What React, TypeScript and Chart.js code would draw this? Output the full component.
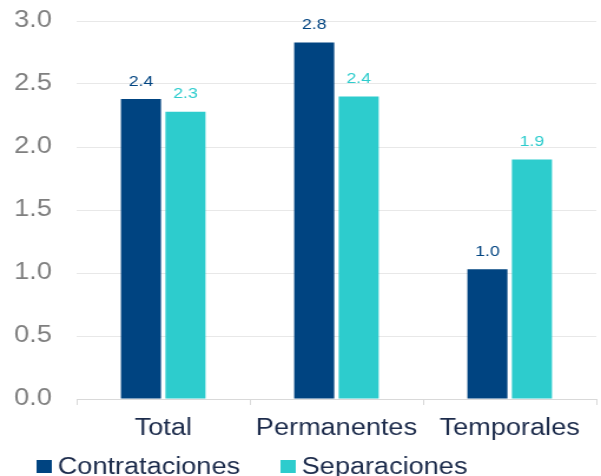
import React, { useEffect, useRef } from "react";
import { Chart, registerables } from "chart.js";

Chart.register(...registerables);

const categories = ["Total", "Permanentes", "Temporales"];
const contrataciones = [2.38, 2.83, 1.03];
const separaciones = [2.28, 2.4, 1.9];
const seriesNames = ["Contrataciones", "Separaciones"];
const seriesColors = ["#004481", "#2dcccd"];
const yTicks = { min: 0, max: 3, step: 0.5 };

const FONT = "'Liberation Sans', Arial, sans-serif";
const INTERNAL_W = 510;
const H = 476;

const valueLabels = {
  id: "valueLabels",
  afterDatasetsDraw(chart: any) {
    const ctx = chart.ctx;
    ctx.save();
    ctx.font = `15px ${FONT}`;
    ctx.textAlign = "center";
    ctx.textBaseline = "alphabetic";
    chart.data.datasets.forEach((ds: any, i: number) => {
      const meta = chart.getDatasetMeta(i);
      ctx.fillStyle = ds.backgroundColor;
      meta.data.forEach((bar: any, j: number) => {
        const v = ds.data[j];
        ctx.fillText(Number(v).toFixed(1), bar.x, bar.y - 13.5);
      });
    });
    ctx.restore();
  },
};

const customLegend = {
  id: "customLegend",
  afterDraw(chart: any) {
    const ctx = chart.ctx;
    const starts = [31, 238];
    const boxTop = 460;
    const box = 13;
    ctx.save();
    ctx.font = `23px ${FONT}`;
    ctx.textAlign = "left";
    ctx.textBaseline = "middle";
    chart.data.datasets.forEach((ds: any, i: number) => {
      const x = starts[i];
      ctx.fillStyle = ds.backgroundColor;
      ctx.fillRect(x, boxTop, box, box);
      ctx.fillStyle = "#1c2b4b";
      ctx.fillText(ds.label, x + box + 5, boxTop + box / 2 + 1);
    });
    ctx.restore();
  },
};

export default function App() {
  const ref = useRef<HTMLCanvasElement>(null);

  useEffect(() => {
    if (!ref.current) return;
    const chart = new Chart(ref.current, {
      type: "bar",
      data: {
        labels: categories,
        datasets: [
          {
            label: seriesNames[0],
            data: contrataciones,
            backgroundColor: seriesColors[0],
            categoryPercentage: 0.514,
            barPercentage: 0.9,
          },
          {
            label: seriesNames[1],
            data: separaciones,
            backgroundColor: seriesColors[1],
            categoryPercentage: 0.514,
            barPercentage: 0.9,
          },
        ],
      },
      options: {
        responsive: false,
        animation: false,
        devicePixelRatio: 1,
        layout: { padding: { top: 21, bottom: 33, left: 0, right: 4 } },
        plugins: {
          legend: { display: false },
          tooltip: { enabled: false },
        },
        scales: {
          x: {
            offset: true,
            grid: {
              offset: true,
              drawOnChartArea: false,
              drawTicks: true,
              tickLength: 6,
              color: "#d9d9d9",
            },
            border: { display: true, color: "#d9d9d9", width: 1 },
            ticks: {
              font: { family: FONT, size: 23 },
              color: "#1c2b4b",
              padding: 10,
              maxRotation: 0,
              autoSkip: false,
            },
            afterFit(scale: any) {
              scale.height = 44;
            },
          },
          y: {
            min: yTicks.min,
            max: yTicks.max,
            grid: {
              color: "#e8e8e8",
              drawTicks: true,
              tickLength: 21,
              tickColor: "rgba(0,0,0,0)",
            },
            border: { display: false },
            ticks: {
              stepSize: yTicks.step,
              font: { family: FONT, size: 23 },
              color: "#7f7f7f",
              padding: 0,
              callback: (v: any) => Number(v).toFixed(1),
            },
            afterFit(scale: any) {
              scale.width = 65;
            },
          },
        },
      },
      plugins: [valueLabels, customLegend],
    });
    return () => chart.destroy();
  }, []);

  return (
    <div style={{ position: "absolute", left: 0, top: 0, width: 601, height: H, background: "#fff" }}>
      <canvas
        ref={ref}
        width={INTERNAL_W}
        height={H}
        style={{ width: "601px", height: `${H}px`, display: "block" }}
      />
    </div>
  );
}
